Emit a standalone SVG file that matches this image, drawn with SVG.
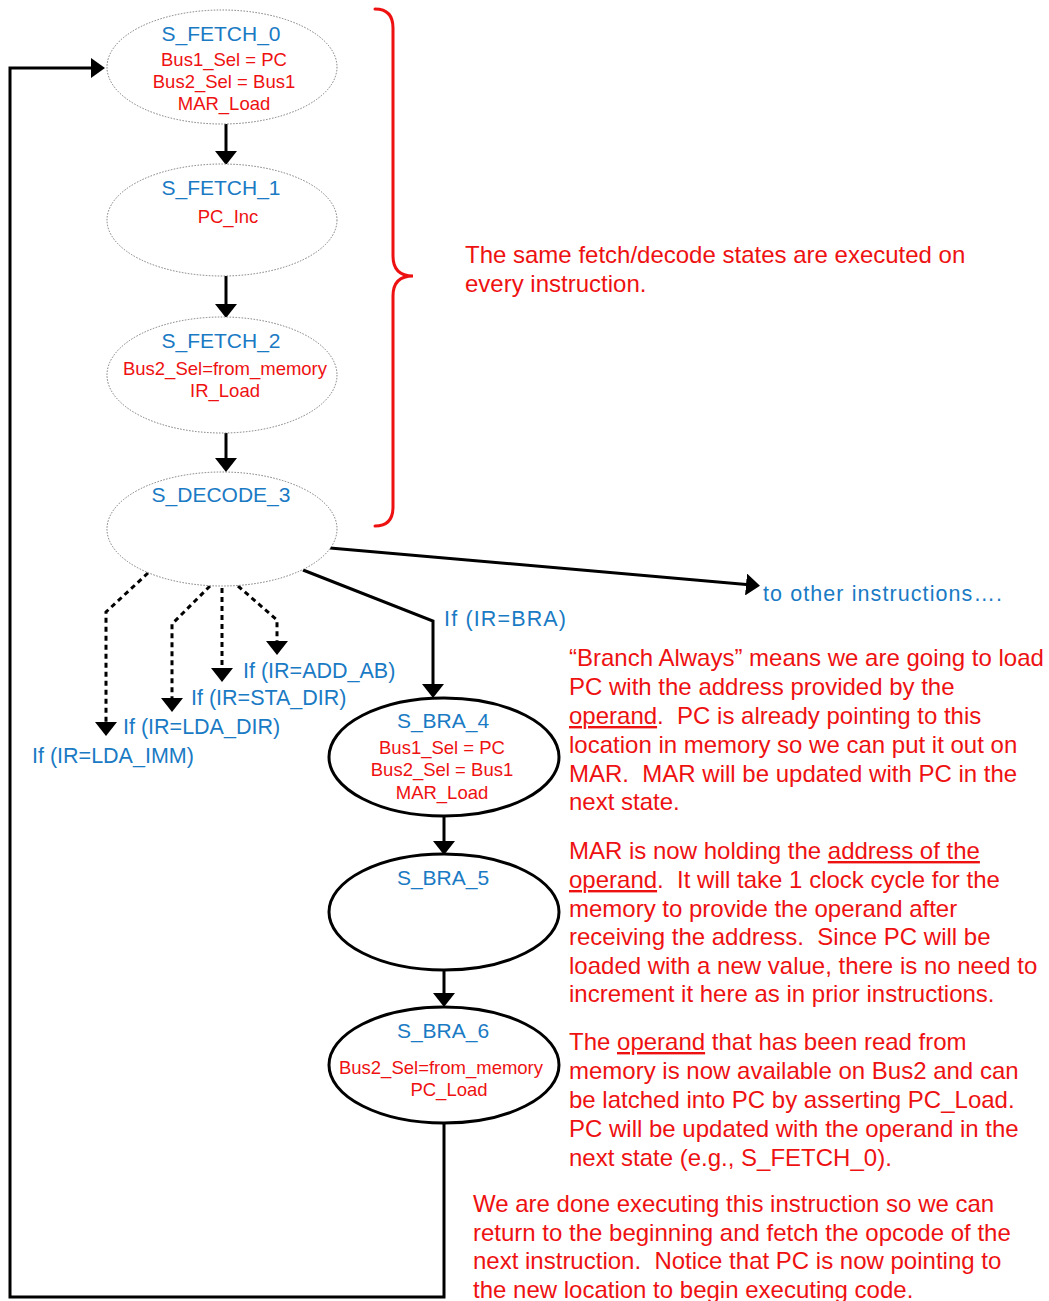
<svg xmlns="http://www.w3.org/2000/svg" width="1049" height="1301" viewBox="0 0 1049 1301">
<style>
.bg{fill:#ffffff}
.en{fill:#ffffff;stroke:#7a7a7a;stroke-width:1;stroke-dasharray:1.5 1.5}
.eb{fill:#ffffff;stroke:#000000;stroke-width:3}
.t{font-family:"Liberation Sans",Arial,sans-serif;font-size:21px;fill:#1a7ac4;text-anchor:middle}
.b{font-family:"Liberation Sans",Arial,sans-serif;font-size:18.5px;fill:#ee1111;text-anchor:middle}
.lbl{font-family:"Liberation Sans",Arial,sans-serif;font-size:21.5px;fill:#1a7ac4}
.ann{font-family:"Liberation Sans",Arial,sans-serif;font-size:24px;fill:#ee1111;white-space:pre}
.c{fill:none;stroke:#000000;stroke-width:3}
.d{fill:none;stroke:#000000;stroke-width:3;stroke-dasharray:5 4}
.brace{fill:none;stroke:#ee1111;stroke-width:3;stroke-linecap:round}
</style>
<defs>
<marker id="ah" viewBox="0 0 14 22" refX="6" refY="11" markerWidth="14" markerHeight="22" markerUnits="userSpaceOnUse" orient="auto">
<path d="M0,0 L14,11 L0,22 z" fill="#000000"/>
</marker>
<marker id="ahs" viewBox="0 0 14 20" refX="6" refY="10" markerWidth="14" markerHeight="20" markerUnits="userSpaceOnUse" orient="auto">
<path d="M0,0 L14,10 L0,20 z" fill="#000000"/>
</marker>
</defs>
<rect class="bg" x="0" y="0" width="1049" height="1301"/>

<g id="connectors">
<path class="c" d="M226,124 L226,157" marker-end="url(#ah)"/>
<path class="c" d="M226,276 L226,310" marker-end="url(#ah)"/>
<path class="c" d="M226,433 L226,464" marker-end="url(#ah)"/>
<path class="c" d="M330,548 L752,585" marker-end="url(#ah)"/>
<path class="c" d="M303,570 L433,621 L433,690" marker-end="url(#ah)"/>
<path class="c" d="M444,817 L444,847" marker-end="url(#ah)"/>
<path class="c" d="M444,970 L444,999" marker-end="url(#ah)"/>
<path class="c" d="M444,1123 L444,1297 L10,1297 L10,68 L97,68" marker-end="url(#ahs)"/>
<path class="d" d="M148,573 L106,612 L106,728" marker-end="url(#ah)"/>
<path class="d" d="M210,586 L172,624 L172,704" marker-end="url(#ah)"/>
<path class="d" d="M222,588 L222,674" marker-end="url(#ah)"/>
<path class="d" d="M238,586 L277,620 L277,647" marker-end="url(#ah)"/>
</g>

<g id="S_FETCH_0">
<ellipse class="en" cx="222" cy="67" rx="115" ry="57"/>
<text class="t" x="221" y="41">S_FETCH_0</text>
<text class="b" x="224" y="66">Bus1_Sel = PC</text>
<text class="b" x="224" y="88">Bus2_Sel = Bus1</text>
<text class="b" x="224" y="110">MAR_Load</text>
</g>

<g id="S_FETCH_1">
<ellipse class="en" cx="222" cy="220" rx="115" ry="56"/>
<text class="t" x="221" y="195">S_FETCH_1</text>
<text class="b" x="228" y="223">PC_Inc</text>
</g>

<g id="S_FETCH_2">
<ellipse class="en" cx="222" cy="375" rx="115" ry="58"/>
<text class="t" x="221" y="348">S_FETCH_2</text>
<text class="b" x="225" y="375">Bus2_Sel=from_memory</text>
<text class="b" x="225" y="397">IR_Load</text>
</g>

<g id="S_DECODE_3">
<ellipse class="en" cx="222" cy="529" rx="115" ry="57"/>
<text class="t" x="221" y="502">S_DECODE_3</text>
</g>

<g id="S_BRA_4">
<ellipse class="eb" cx="444" cy="757" rx="115" ry="59"/>
<text class="t" x="443" y="728">S_BRA_4</text>
<text class="b" x="442" y="754">Bus1_Sel = PC</text>
<text class="b" x="442" y="776">Bus2_Sel = Bus1</text>
<text class="b" x="442" y="799">MAR_Load</text>
</g>

<g id="S_BRA_5">
<ellipse class="eb" cx="444" cy="912" rx="115" ry="58"/>
<text class="t" x="443" y="885">S_BRA_5</text>
</g>

<g id="S_BRA_6">
<ellipse class="eb" cx="444" cy="1065" rx="115" ry="58"/>
<text class="t" x="443" y="1038">S_BRA_6</text>
<text class="b" x="441" y="1074">Bus2_Sel=from_memory</text>
<text class="b" x="449" y="1096">PC_Load</text>
</g>

<g id="labels">
<text class="lbl" x="444" y="626" font-size="25.5" textLength="122" lengthAdjust="spacing">If (IR=BRA)</text>
<text class="lbl" x="243" y="678">If (IR=ADD_AB)</text>
<text class="lbl" x="191" y="705">If (IR=STA_DIR)</text>
<text class="lbl" x="123" y="734">If (IR=LDA_DIR)</text>
<text class="lbl" x="32" y="763">If (IR=LDA_IMM)</text>
<text class="lbl" x="763" y="601" font-size="25" textLength="239" lengthAdjust="spacing">to other instructions….</text>
</g>

<g id="brace">
<path class="brace" d="M375,9 Q393,9 393,28 L393,256 Q393,276 413,276 Q393,276 393,296 L393,507 Q393,526 375,526"/>
</g>

<g id="annotations">
<text class="ann" x="465" y="263">The same fetch/decode states are executed on</text>
<text class="ann" x="465" y="292">every instruction.</text>

<text class="ann" x="569" y="666">“Branch Always” means we are going to load</text>
<text class="ann" x="569" y="695">PC with the address provided by the</text>
<text class="ann" x="569" y="724"><tspan text-decoration="underline">operand</tspan>.  PC is already pointing to this</text>
<text class="ann" x="569" y="753">location in memory so we can put it out on</text>
<text class="ann" x="569" y="782">MAR.  MAR will be updated with PC in the</text>
<text class="ann" x="569" y="810">next state.</text>

<text class="ann" x="569" y="859">MAR is now holding the <tspan text-decoration="underline">address of the</tspan></text>
<text class="ann" x="569" y="888"><tspan text-decoration="underline">operand</tspan>.  It will take 1 clock cycle for the</text>
<text class="ann" x="569" y="917">memory to provide the operand after</text>
<text class="ann" x="569" y="945">receiving the address.  Since PC will be</text>
<text class="ann" x="569" y="974">loaded with a new value, there is no need to</text>
<text class="ann" x="569" y="1002">increment it here as in prior instructions.</text>

<text class="ann" x="569" y="1050">The <tspan text-decoration="underline">operand</tspan> that has been read from</text>
<text class="ann" x="569" y="1079">memory is now available on Bus2 and can</text>
<text class="ann" x="569" y="1108">be latched into PC by asserting PC_Load.</text>
<text class="ann" x="569" y="1137">PC will be updated with the operand in the</text>
<text class="ann" x="569" y="1166">next state (e.g., S_FETCH_0).</text>

<text class="ann" x="473" y="1212">We are done executing this instruction so we can</text>
<text class="ann" x="473" y="1241">return to the beginning and fetch the opcode of the</text>
<text class="ann" x="473" y="1269">next instruction.  Notice that PC is now pointing to</text>
<text class="ann" x="473" y="1298">the new location to begin executing code.</text>
</g>
</svg>
